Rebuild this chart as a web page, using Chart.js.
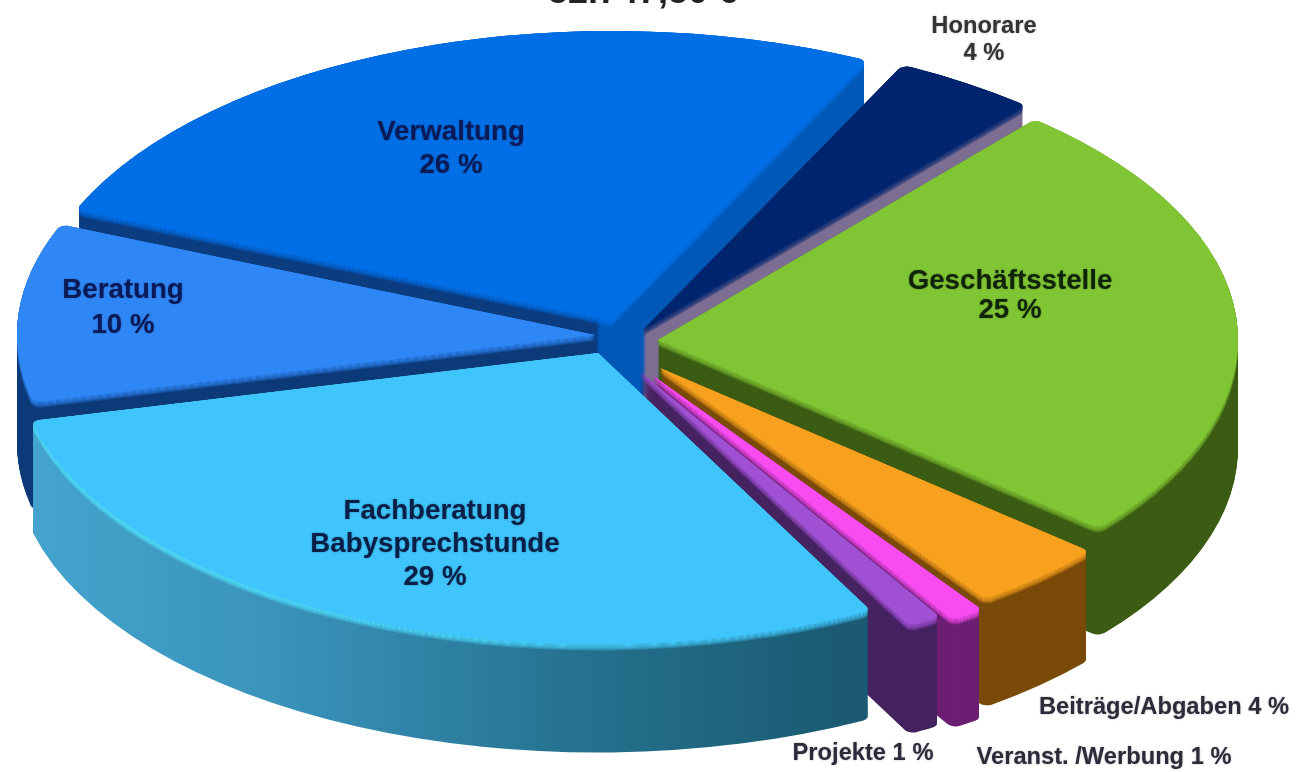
<!DOCTYPE html>
<html>
<head>
<meta charset="utf-8">
<title>Ausgaben</title>
<script src="https://cdn.jsdelivr.net/npm/chart.js@4"></script>
<style>
html, body { margin: 0; padding: 0; background: #fff; overflow: hidden; }
#wrap { width: 1309px; height: 772px; }
#pie { filter: blur(0.6px); }
</style>
</head>
<body>
<div id="wrap"><canvas id="pie"></canvas></div>
<script>
const titleText = '52.747,50 €';
const categories = ['Geschäftsstelle', 'Beiträge/Abgaben', 'Veranst. /Werbung', 'Projekte', 'Fachberatung Babysprechstunde', 'Beratung', 'Verwaltung', 'Honorare'];
const shares = [25, 4, 1, 1, 29, 10, 26, 4];

// looks of the slices, same order as categories
const topColors = ['#80c534', '#f7a11f', '#f84cf0', '#a050d2', '#3fc4fb', '#2f86f5', '#006fe6', '#00256e'];
// where each slice tip sits on the page once pulled out of the pie
const tipX = [658, 660, 652, 640, 598, 595, 612, 643];
const tipY = [340, 368, 375, 372, 353, 335, 321, 330];
const rimRadius = [580, 565, 575, 575, 583, 578, 580, 590];
// back to front
const drawOrder = [6, 7, 0, 1, 2, 3, 5, 4];

// text lines: [lines, centre x, first baseline y, px, line step, colour]
const labelSpots = [
    [['Geschäftsstelle', '25 %'], 1010, 289, 27.7, 29, '#10240a'],
    [['Beiträge/Abgaben 4 %'], 1164, 714, 23.7, 0, '#2b2b3a'],
    [['Veranst. /Werbung 1 %'], 1104, 764, 23.7, 0, '#2b2b3a'],
    [['Projekte 1 %'], 863, 760, 23.7, 0, '#2b2b3a'],
    [['Fachberatung', 'Babysprechstunde', '29 %'], 435, 519, 27.7, 33, '#0a1f48'],
    [['Beratung', '10 %'], 123, 298, 27.7, 35, '#0a1a58'],
    [['Verwaltung', '26 %'], 451, 140, 27.7, 33, '#0a1a58'],
    [['Honorare', '4 %'], 984, 33, 23.7, 27, '#333333']
];

const squash = 0.5;
const depth = 108;
const bevel = 7;

function stops(ctx, list) {
    const g = ctx.createLinearGradient(0, 0, 1309, 0);
    list.forEach(s => g.addColorStop(s[0] / 1309, s[1]));
    return g;
}

function wallFill(ctx, i) {
    switch (i) {
        case 0: return '#3c5c14';
        case 1: return '#7a4a08';
        case 2: return '#6c1f72';
        case 3: return '#452260';
        case 4: return stops(ctx, [[0, '#46a8d2'], [300, '#3a93bb'], [600, '#25728f'], [865, '#1b5a72'], [1309, '#1b5a72']]);
        case 5: return stops(ctx, [[0, '#2a72d2'], [31, '#2a72d2'], [32, '#0c3a78'], [1309, '#0c3a78']]);
        case 6: return stops(ctx, [[0, '#0b3c80'], [606, '#0b3c80'], [610, '#0058b8'], [1309, '#0058b8']]);
        default: return stops(ctx, [[0, '#7c6e92'], [1004, '#7c6e92'], [1008, '#001040'], [1309, '#001040']]);
    }
}

function rimFill(ctx, i) {
    if (i === 4) {
        return stops(ctx, [[0, '#52e6ff'], [250, '#50e2ff'], [550, '#48d4fc'], [865, '#3fc4fb'], [1309, '#3fc4fb']]);
    }
    return topColors[i];
}

const tiltedPie = {
    id: 'tiltedPie',
    beforeDatasetDraw(chart) {
        const ctx = chart.ctx;
        const arcs = chart.getDatasetMeta(0).data;
        const cy = arcs[0].y;
        drawOrder.forEach(i => {
            const arc = arcs[i];
            const own = arc.options;
            const ownRadius = arc.outerRadius;
            const wall = Object.assign({}, own, { backgroundColor: wallFill(ctx, i) });
            const rim = Object.assign({}, own, { backgroundColor: rimFill(ctx, i) });
            arc.outerRadius = rimRadius[i];
            ctx.save();
            ctx.translate(tipX[i] - arc.x, tipY[i]);
            ctx.scale(1, squash);
            ctx.translate(0, -cy);
            for (let d = depth; d >= 0; d--) {
                ctx.save();
                ctx.translate(0, d / squash);
                arc.options = wall;
                arc.draw(ctx);
                if (d <= bevel) {
                    // soft edge between wall and top face
                    ctx.globalAlpha = 1 - Math.pow(d / bevel, 2);
                    arc.options = rim;
                    arc.draw(ctx);
                }
                ctx.restore();
            }
            arc.options = own;
            arc.draw(ctx);
            ctx.restore();
            arc.outerRadius = ownRadius;
        });
        return false;
    },
    afterDraw(chart) {
        const ctx = chart.ctx;
        ctx.save();
        ctx.textAlign = 'center';
        ctx.fillStyle = '#222';
        ctx.font = 'bold 36px "Liberation Sans", Arial, sans-serif';
        ctx.fillText(titleText, 643, 3);
        labelSpots.forEach(spot => {
            ctx.font = 'bold ' + spot[3] + 'px "Liberation Sans", Arial, sans-serif';
            ctx.fillStyle = spot[5];
            ctx.shadowColor = 'rgba(0,0,0,0.35)';
            ctx.shadowBlur = 2;
            spot[0].forEach((line, n) => {
                ctx.fillText(line, spot[1], spot[2] + n * spot[4]);
            });
        });
        ctx.restore();
    }
};

new Chart(document.getElementById('pie'), {
    type: 'pie',
    data: {
        labels: categories,
        datasets: [{
            data: shares,
            backgroundColor: topColors,
            borderWidth: 0,
            borderRadius: 9
        }]
    },
    plugins: [tiltedPie],
    options: {
        responsive: true,
        maintainAspectRatio: false,
        animation: false,
        rotation: 40.5,
        layout: { padding: { right: 65, bottom: 108 } },
        plugins: {
            legend: { display: false },
            tooltip: { enabled: false }
        }
    }
});
</script>
</body>
</html>
